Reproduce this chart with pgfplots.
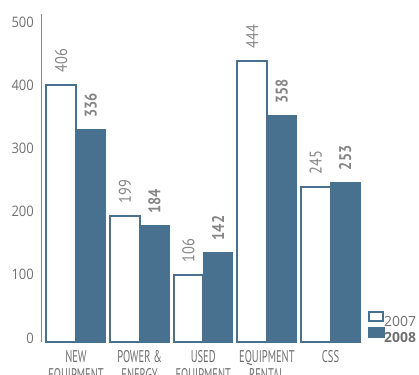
\documentclass[border=0pt]{standalone}
\usepackage{graphicx}
\usepackage{pgfplots}
\pgfplotsset{compat=1.18}
\usepackage{fontspec}
\setmainfont{Open Sans}
\newfontfamily\condfont{PT Sans}

\definecolor{steel}{HTML}{48708F}
\definecolor{tickgrey}{HTML}{707070}
\definecolor{valgrey}{HTML}{858585}
\definecolor{axisgrey}{HTML}{8A8A8A}

% revenue by segment, 2007 vs 2008
\pgfplotstableread{
x  y2007 y2008
0  406   336
1  199   184
2  106   142
3  444   358
4  245   253
}\segdata

\newcommand{\vallabel}[1]{\scalebox{0.85}[1]{#1}}

\begin{document}
\begin{tikzpicture}
\useasboundingbox (0,0) rectangle (419bp,375bp);
\begin{axis}[
  at={(41bp,33bp)}, anchor=south west,
  scale only axis,
  width=324.5bp, height=328bp,
  xmin=-0.55, xmax=4.55,
  ymin=0, ymax=519,
  clip=false,
  ybar=0pt,
  bar width=0.465,
  axis lines*=left,
  axis line style={-},
  x axis line style={draw=none},
  y axis line style={draw=axisgrey, line width=1bp},
  major tick length=0pt,
  ytick={0,100,...,500},
  xtick={0,1,2,3,4},
  xticklabels={NEW\\EQUIPMENT, POWER \&\\ENERGY, USED\\EQUIPMENT, EQUIPMENT\\RENTAL, CSS},
  /pgf/number format/assume math mode=true,
  yticklabel style={font=\fontsize{14.5}{14.5}\selectfont, text=tickgrey,
    anchor=east, inner sep=0pt, xshift=-7bp, yshift=4bp, xscale=0.9},
  xticklabel style={font=\condfont\fontsize{17}{18}\selectfont, text=tickgrey,
    anchor=north, inner sep=0pt, yshift=-8bp, align=center, xscale=0.62},
  nodes near coords,
  every node near coord/.append style={rotate=90, anchor=west,
    inner xsep=12bp, inner ysep=0pt, text=valgrey},
  legend style={at={(1.0077,-0.006)}, anchor=south west, draw=none, fill=none,
    inner sep=0pt, row sep=0pt,
    font=\fontsize{14}{14}\selectfont, text=tickgrey,
    nodes={inner sep=0pt, text height=11bp, text depth=1bp},
    /tikz/every even column/.append style={column sep=2bp}},
  legend cell align=left,
]
\addplot[fill=white, draw=steel, line width=2bp,
  nodes near coords={\vallabel{\condfont\fontsize{17}{17}\selectfont\pgfmathprintnumber{\pgfplotspointmeta}}},
  legend image code/.code={\draw[fill=white, draw=steel, line width=2bp] (1bp,1bp) rectangle (15bp,10bp);}]
  table[x=x, y=y2007] {\segdata};
\addlegendentry{2007}
\addplot[fill=steel, draw=steel, line width=0pt,
  nodes near coords={\vallabel{\condfont\bfseries\fontsize{17}{17}\selectfont\pgfmathprintnumber{\pgfplotspointmeta}}},
  legend image code/.code={\fill[steel] (0bp,0bp) rectangle (16bp,10bp);}]
  table[x=x, y=y2008] {\segdata};
\addlegendentry{\textbf{2008}}
\end{axis}
\end{tikzpicture}
\end{document}
